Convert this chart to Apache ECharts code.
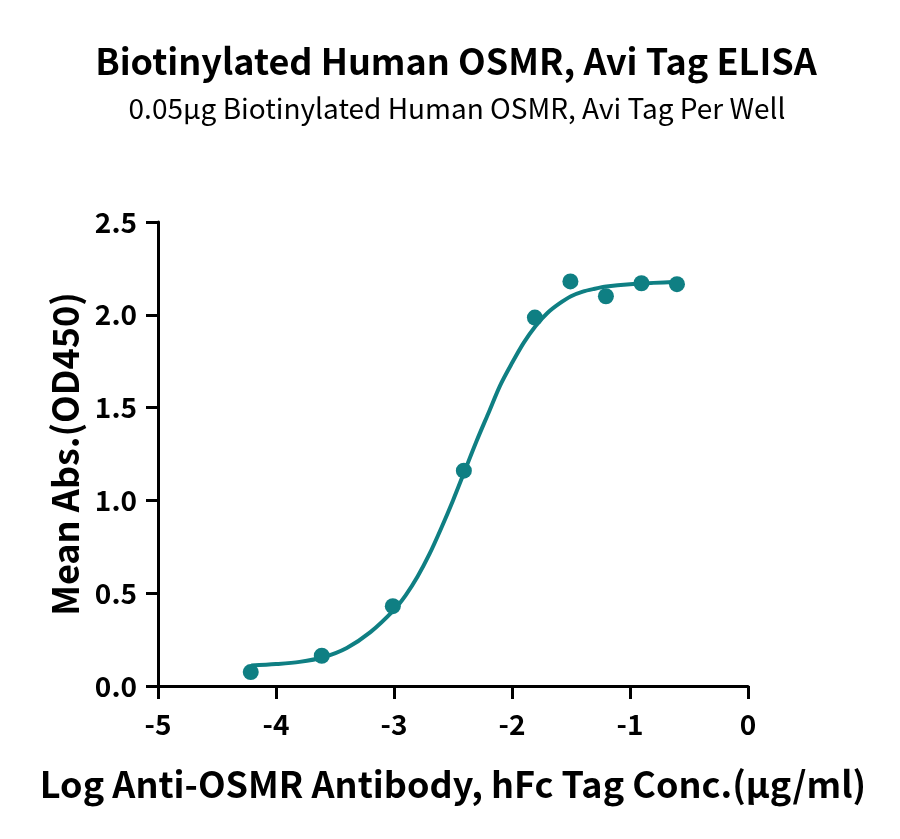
<!DOCTYPE html>
<html>
<head>
<meta charset="utf-8">
<script src="https://cdn.jsdelivr.net/npm/echarts@6/dist/echarts.min.js"></script>
<style>
  html, body { margin: 0; padding: 0; background: #fff; }
  #chart { width: 900px; height: 839px; }
</style>
</head>
<body>
<div id="chart"></div>
<script>
// 测量点：log 浓度 与 OD450
var logConc = [-4.214, -3.612, -3.010, -2.408, -1.806, -1.505, -1.204, -0.903, -0.602];
var meanAbs = [0.075, 0.163, 0.43, 1.16, 1.985, 2.18, 2.10, 2.17, 2.165];

// 拟合曲线
var curveX = [-4.21, -4.0, -3.8, -3.6, -3.4, -3.2, -3.0, -2.9, -2.8, -2.7, -2.6, -2.5, -2.4, -2.3, -2.2, -2.1,
	-2.0, -1.9, -1.8, -1.7, -1.6, -1.5, -1.4, -1.3, -1.2, -1.0, -0.8, -0.6];
var curveY = [0.11, 0.118, 0.13, 0.155, 0.205, 0.29, 0.41, 0.49, 0.59, 0.71, 0.85, 1.00, 1.16, 1.32, 1.47, 1.62,
	1.74, 1.85, 1.94, 2.01, 2.06, 2.10, 2.125, 2.14, 2.152, 2.165, 2.172, 2.178];

var xTicks = [-5, -4, -3, -2, -1, 0];
var yTicks = [0, 0.5, 1.0, 1.5, 2.0, 2.5];

var teal = '#0f7f83';
var font = '"Noto Sans CJK SC", "Noto Sans", sans-serif';

function pairs(xs, ys) {
	var out = [];
	for (var i = 0; i < xs.length; i++) out.push([xs[i], ys[i]]);
	return out;
}

var chart = echarts.init(document.getElementById('chart'));
var option = {
	animation: false,
	backgroundColor: '#fff',
	title: [{
		text: 'Biotinylated Human OSMR, Avi Tag ELISA',
		left: 451, top: 38, textAlign: 'center',
		textStyle: { fontFamily: font, fontWeight: 'bold', fontSize: 36, color: '#000' }
	}, {
		text: '0.05μg Biotinylated Human OSMR, Avi Tag Per Well',
		left: 452, top: 89, textAlign: 'center',
		textStyle: { fontFamily: font, fontWeight: 'normal', fontSize: 28, color: '#000' }
	}],
	grid: { left: 158, right: 152, top: 222, bottom: 153, containLabel: false },
	xAxis: {
		type: 'value',
		min: xTicks[0], max: xTicks[xTicks.length - 1], interval: 1,
		name: 'Log Anti-OSMR Antibody, hFc Tag Conc.(μg/ml)',
		nameLocation: 'middle', nameGap: 80,
		nameTextStyle: { fontFamily: font, fontWeight: 'bold', fontSize: 36, color: '#000' },
		axisLine: { show: true, onZero: false, lineStyle: { color: '#000', width: 3 } },
		axisTick: { show: true, length: 13, lineStyle: { color: '#000', width: 3 } },
		axisLabel: { fontFamily: font, fontWeight: 'bold', fontSize: 28, color: '#000', margin: 24 },
		splitLine: { show: false }
	},
	yAxis: {
		type: 'value',
		min: yTicks[0], max: yTicks[yTicks.length - 1], interval: 0.5,
		name: 'Mean Abs.(OD450)',
		nameLocation: 'middle', nameGap: 75, nameRotate: 90,
		nameTextStyle: { fontFamily: font, fontWeight: 'bold', fontSize: 36, color: '#000' },
		axisLine: { show: true, onZero: false, lineStyle: { color: '#000', width: 3 } },
		axisTick: { show: true, length: 12, lineStyle: { color: '#000', width: 3 } },
		axisLabel: {
			fontFamily: font, fontWeight: 'bold', fontSize: 28, color: '#000', margin: 21,
			formatter: function (v) { return v.toFixed(1); }
		},
		splitLine: { show: false }
	},
	series: [{
		name: 'fit',
		type: 'line',
		smooth: 0.3,
		showSymbol: false,
		lineStyle: { color: teal, width: 4 },
		data: pairs(curveX, curveY),
		z: 2
	}, {
		name: 'data',
		type: 'scatter',
		symbol: 'circle',
		symbolSize: 16,
		itemStyle: { color: teal, opacity: 1 },
		data: pairs(logConc, meanAbs),
		z: 3
	}]
};
chart.setOption(option);
</script>
</body>
</html>
